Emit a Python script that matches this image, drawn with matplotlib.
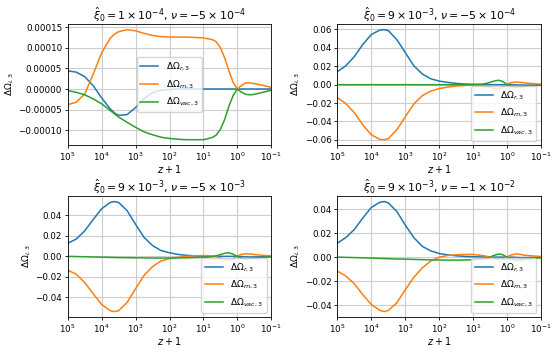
import numpy as np
import matplotlib
matplotlib.use("Agg")
import matplotlib.pyplot as plt
from matplotlib.ticker import MultipleLocator

# log10(z+1) sample positions (same for all panels)
log_zp1 = np.array([5, 4.75, 4.5, 4.25, 4, 3.75, 3.625, 3.5, 3.25, 3, 2.75, 2.5, 2.25, 2,
                    1.75, 1.5, 1.25, 1, 0.75, 0.625, 0.5, 0.375, 0.25, 0.125, 0,
                    -0.125, -0.25, -0.375, -0.5, -0.75, -1])
zp1 = 10.0 ** log_zp1

# Panel 1: xi0 = 1e-4, nu = -5e-4  (values in 1e-5)
r1 = [4.4, 4.1, 3.0, 0.8, -2.2, -4.8, -5.8, -6.4, -6.2, -4.5, -2.3, -0.9, -0.3, -0.1,
      0, 0, 0, 0, 0, 0, 0, 0, 0, 0, 0, 0, 0, 0, 0, 0, 0]
m1 = [-3.8, -3.2, -1.2, 3.6, 8.8, 12.3, 13.3, 13.9, 14.4, 14.1, 13.5, 13.0, 12.7, 12.6,
      12.6, 12.6, 12.5, 12.4, 12.0, 11.5, 10.0, 7.6, 4.4, 1.6, 0, 0.9, 1.5, 1.5, 1.3, 0.9, 0.4]
v1 = [-0.4, -0.8, -1.4, -2.4, -3.6, -5.2, -6.0, -6.8, -8.1, -9.3, -10.4, -11.1, -11.7, -12.0,
      -12.2, -12.3, -12.3, -12.3, -11.8, -11.2, -9.8, -7.4, -4.2, -1.6, 0, -0.8, -1.3, -1.4, -1.3, -0.8, -0.3]

# Panel 2: xi0 = 9e-3, nu = -5e-4  (values in 1e-2)
r2 = [1.42, 2.06, 3.06, 4.38, 5.45, 5.94, 5.98, 5.87, 4.9, 3.49, 2.06, 1.17, 0.64, 0.39,
      0.25, 0.14, 0.07, 0.04, 0.02, 0.01, 0, 0, 0, 0, 0, 0, -0.02, -0.04, -0.05, -0.04, -0.02]
m2 = [-1.42, -2.06, -3.06, -4.38, -5.45, -5.94, -5.98, -5.87, -4.9, -3.49, -2.1, -1.2, -0.7, -0.42,
      -0.26, -0.15, -0.08, -0.04, -0.1, -0.2, -0.3, -0.42, -0.46, -0.3, 0.05, 0.22, 0.28, 0.26, 0.2, 0.12, 0.05]
v2 = [0, 0, 0, 0, 0, 0, 0, 0, 0, 0, 0, 0, 0, 0,
      0, 0, 0, 0, 0.05, 0.12, 0.25, 0.4, 0.48, 0.35, 0, -0.2, -0.26, -0.25, -0.2, -0.12, -0.06]

# Panel 3: xi0 = 9e-3, nu = -5e-3  (values in 1e-2)
r3 = [1.28, 1.69, 2.49, 3.6, 4.65, 5.26, 5.35, 5.26, 4.46, 3.12, 1.85, 1.05, 0.57, 0.35,
      0.19, 0.1, 0.05, 0.02, 0.01, 0, 0, 0, 0, 0, 0, -0.02, -0.05, -0.06, -0.06, -0.04, -0.02]
m3 = [-1.34, -1.75, -2.55, -3.65, -4.7, -5.3, -5.39, -5.3, -4.5, -3.15, -1.85, -1.0, -0.45, -0.22,
      -0.1, 0.0, 0.06, 0.08, 0.05, -0.04, -0.15, -0.3, -0.38, -0.25, 0.05, 0.2, 0.25, 0.24, 0.18, 0.1, 0.05]
v3 = [0, -0.02, -0.04, -0.06, -0.08, -0.1, -0.11, -0.12, -0.13, -0.14, -0.15, -0.16, -0.16, -0.16,
      -0.15, -0.14, -0.12, -0.1, -0.05, 0.05, 0.18, 0.3, 0.35, 0.22, -0.02, -0.18, -0.24, -0.22, -0.18, -0.1, -0.05]

# Panel 4: xi0 = 9e-3, nu = -1e-2  (values in 1e-2)
r4 = [1.17, 1.63, 2.31, 3.27, 4.14, 4.57, 4.63, 4.52, 3.81, 2.67, 1.63, 0.9, 0.52, 0.3,
      0.19, 0.11, 0.06, 0.03, 0.02, 0.01, 0, 0, 0, 0, 0, 0, -0.02, -0.04, -0.04, -0.03, -0.02]
m4 = [-1.17, -1.58, -2.23, -3.13, -3.95, -4.44, -4.54, -4.44, -3.81, -2.72, -1.69, -0.9, -0.33, 0.0,
      0.14, 0.19, 0.22, 0.22, 0.14, 0.08, 0.0, -0.12, -0.22, -0.18, 0.02, 0.18, 0.27, 0.24, 0.16, 0.1, 0.05]
v4 = [0, -0.02, -0.04, -0.06, -0.08, -0.11, -0.12, -0.13, -0.16, -0.17, -0.19, -0.21, -0.23, -0.24,
      -0.25, -0.25, -0.24, -0.22, -0.17, -0.1, 0.0, 0.15, 0.26, 0.2, 0.0, -0.18, -0.27, -0.24, -0.2, -0.12, -0.05]

titles = [r"$\hat{\xi}_0 = 1\times10^{-4}$, $\nu = -5\times10^{-4}$",
          r"$\hat{\xi}_0 = 9\times10^{-3}$, $\nu = -5\times10^{-4}$",
          r"$\hat{\xi}_0 = 9\times10^{-3}$, $\nu = -5\times10^{-3}$",
          r"$\hat{\xi}_0 = 9\times10^{-3}$, $\nu = -1\times10^{-2}$"]
scales = [1e-5, 1e-2, 1e-2, 1e-2]
ytick_steps = [5e-5, 0.02, 0.02, 0.02]
series = [(r1, m1, v1), (r2, m2, v2), (r3, m3, v3), (r4, m4, v4)]
legend_locs = ["center", "lower right", "lower right", "lower right"]
labels = [r"$\Delta\Omega_{r,3}$", r"$\Delta\Omega_{m,3}$", r"$\Delta\Omega_{vac,3}$"]
colors = ["#1f77b4", "#ff7f0e", "#2ca02c"]

fig, axes = plt.subplots(2, 2, figsize=(5.6, 3.5), dpi=100)
fig.subplots_adjust(left=0.121, right=0.966, top=0.931, bottom=0.094, wspace=0.325, hspace=0.42)

for ax, title, sc, step, ser, loc in zip(axes.flat, titles, scales, ytick_steps, series, legend_locs):
    for vals, lab, col in zip(ser, labels, colors):
        ax.plot(zp1, np.array(vals) * sc, color=col, lw=1.1, label=lab)
    ax.set_xscale("log")
    ax.set_xlim(1e5, 1e-1)
    ax.set_xticks([1e5, 1e4, 1e3, 1e2, 1e1, 1e0, 1e-1])
    ax.minorticks_off()
    ax.yaxis.set_major_locator(MultipleLocator(step))
    ax.ticklabel_format(axis="y", style="plain", useOffset=False)
    ax.grid(True, color="#cccccc", lw=0.8)
    ax.tick_params(labelsize=6.3, length=2.5, width=0.6, pad=1.5)
    ax.set_title(title, fontsize=7.8, pad=3)
    ax.set_xlabel(r"$z+1$", fontsize=7, labelpad=0)
    ax.set_ylabel(r"$\Delta\Omega_{i,3}$", fontsize=6.5, labelpad=2)
    for sp in ax.spines.values():
        sp.set_linewidth(0.6)
    ax.legend(loc=loc, fontsize=6.5, handlelength=2.0, labelspacing=0.6, framealpha=0.8)

fig.savefig("out.png", dpi=100)
